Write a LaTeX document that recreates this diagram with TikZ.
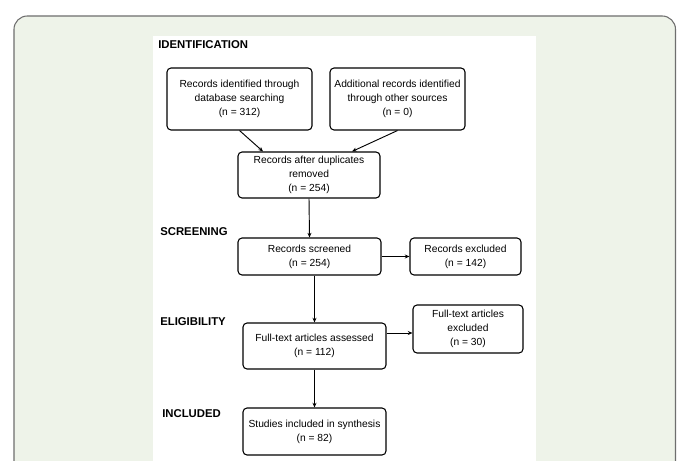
\documentclass[tikz,border=0pt]{standalone}
\usepackage{fontspec}
\setmainfont{Liberation Sans}
\usetikzlibrary{calc,arrows.meta}
\definecolor{bggreen}{RGB}{238,243,233}
\definecolor{framegray}{RGB}{110,110,110}
\tikzset{
  box/.style={draw=black, line width=0.8pt, rounded corners=3pt, fill=white, align=center,
    font=\fontsize{7.7pt}{10.3pt}\selectfont, inner sep=1pt},
  heading/.style={anchor=west, font=\fontsize{8.5pt}{9pt}\selectfont\bfseries, inner sep=0pt},
  arr/.style={draw=black, line width=0.7pt, -{Stealth[length=3.5pt,width=3pt]}}
}
\begin{document}
\begin{tikzpicture}[x=0.75pt,y=-0.75pt]
\useasboundingbox (0,0) rectangle (677,460);
\fill[white] (0,0) rectangle (677,460);
\begin{scope}
\clip (0,0) rectangle (677,460);
\draw[framegray, fill=bggreen, line width=0.8pt, rounded corners=10pt] (14,16) rectangle (675.5,480);
\fill[white] (152.5,36.5) rectangle (535.5,470);
\end{scope}

\node[heading] (hid) at (158,45) {IDENTIFICATION};
\node[heading] (hsc) at (160,232) {SCREENING};
\node[heading] (hel) at (160,322) {ELIGIBILITY};
\node[heading] (hin) at (162,414) {INCLUDED};

\node[box, minimum width=145*0.75pt, minimum height=62*0.75pt] (b1) at (239.5,99)
  {Records identified through\\database searching\\(n = 312)};
\node[box, minimum width=135*0.75pt, minimum height=62*0.75pt] (b2) at (397.5,99)
  {Additional records identified\\through other sources\\(n = 0)};
\node[box, minimum width=142*0.75pt, minimum height=46*0.75pt] (b3) at (309,175)
  {Records after duplicates\\removed\\(n = 254)};
\node[box, minimum width=143*0.75pt, minimum height=37*0.75pt] (b4) at (309.5,256.5)
  {Records screened\\(n = 254)};
\node[box, minimum width=111*0.75pt, minimum height=37*0.75pt] (b5) at (465.5,256.5)
  {Records excluded\\(n = 142)};
\node[box, minimum width=143*0.75pt, minimum height=46*0.75pt] (b6) at (314.5,346)
  {Full-text articles assessed\\(n = 112)};
\node[box, minimum width=110*0.75pt, minimum height=48*0.75pt] (b7) at (468,329)
  {Full-text articles\\excluded\\(n = 30)};
\node[box, minimum width=143*0.75pt, minimum height=47*0.75pt] (b8) at (314.5,431.5)
  {Studies included in synthesis\\(n = 82)};

\draw[arr] (b1.south) -- ($(b3.north)+(-46,0)$);
\draw[arr] (b2.south) -- ($(b3.north)+(43,0)$);
\draw[arr] (b3.south) -- (b4.north);
\draw[arr] (b4.east) -- (b5.west);
\draw[arr] (b6.north |- b4.south) -- (b6.north);
\draw[arr] ($(b6.east)+(0,-13)$) -- ($(b7.west)+(0,4)$);
\draw[arr] (b6.south) -- (b8.north);
\end{tikzpicture}
\end{document}
